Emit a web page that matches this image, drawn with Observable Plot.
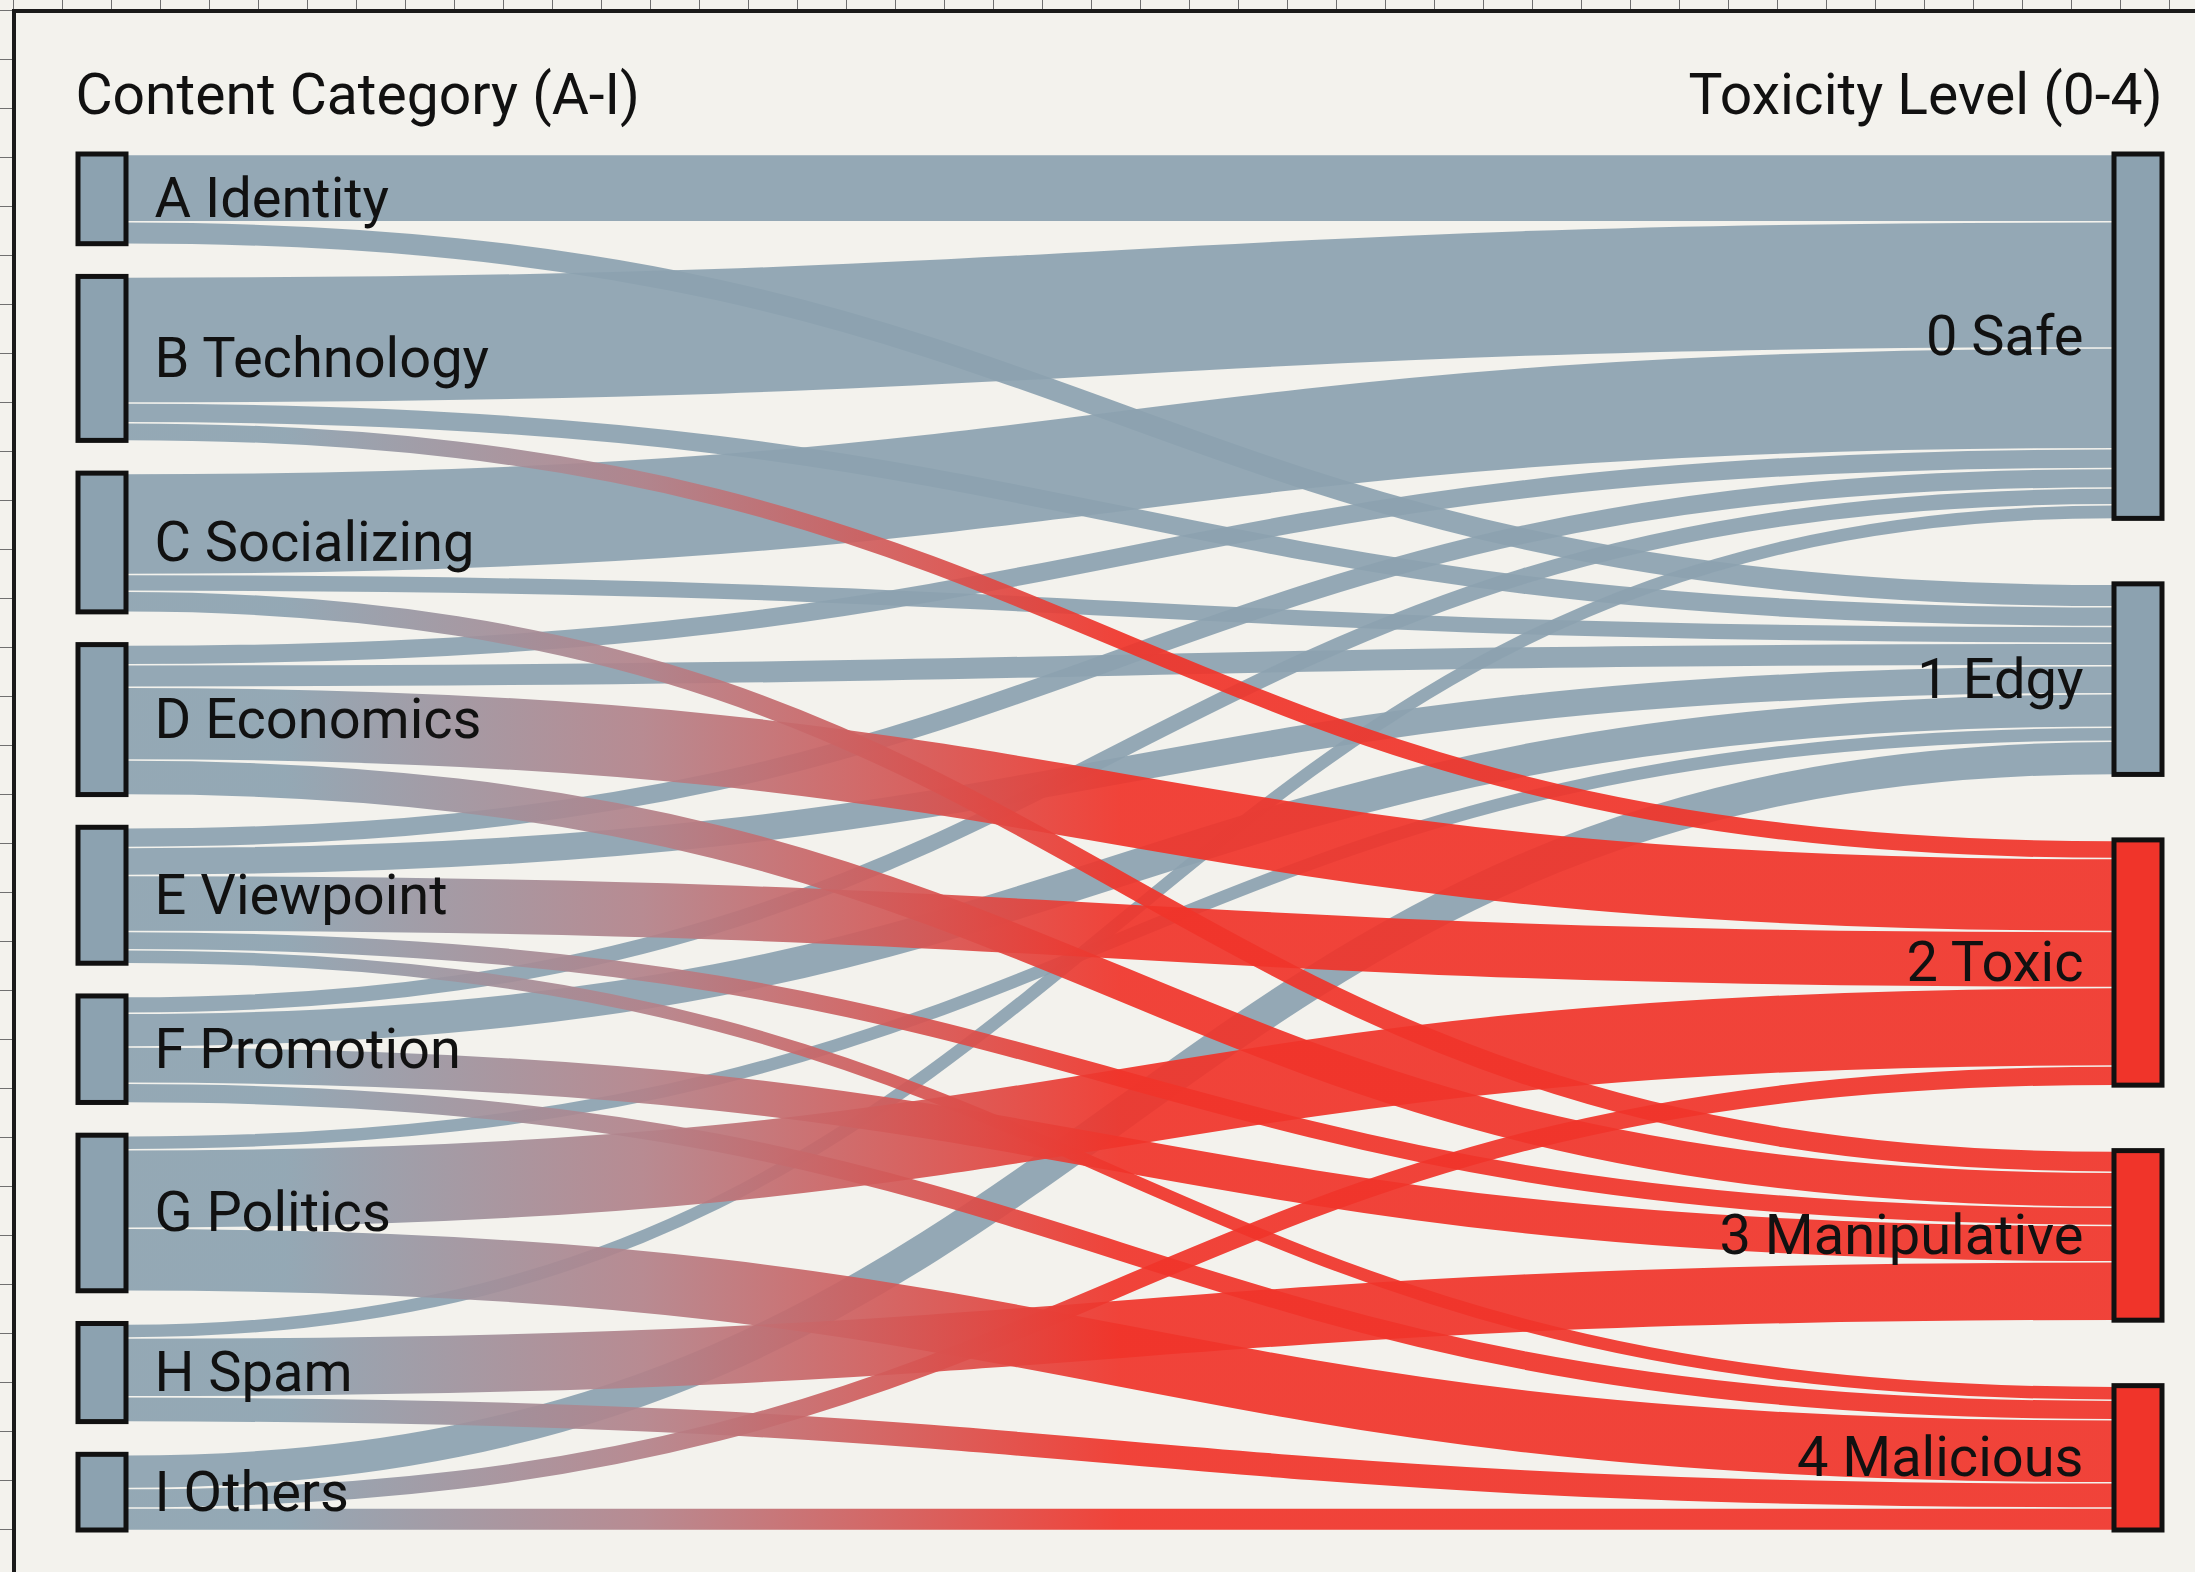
<!DOCTYPE html>
<html>
<head>
<meta charset="utf-8">
<script src="https://cdn.jsdelivr.net/npm/d3@7"></script>
<script src="https://cdn.jsdelivr.net/npm/@observablehq/plot@0.6"></script>
<style>
  html, body { margin: 0; padding: 0; width: 2195px; height: 1572px; overflow: hidden; }
  body {
    background-color: #f3f2ed;
    background-image:
      linear-gradient(to right, #707070 1px, transparent 1px),
      linear-gradient(to bottom, #707070 1px, transparent 1px);
    background-size: 49px 49px;
    background-position: 13px 10px;
  }
  #panel {
    position: absolute; left: 12px; top: 9px; width: 2300px; height: 1700px;
    background: #f3f2ed; border-left: 4px solid #1a1a1a; border-top: 4px solid #1a1a1a;
  }
  #chart { position: absolute; left: 0; top: 0; }
</style>
</head>
<body>
<div id="panel"></div>
<div id="chart"></div>
<script>
// ---- data ----
const sourceNames = ["A Identity", "B Technology", "C Socializing", "D Economics", "E Viewpoint",
                     "F Promotion", "G Politics", "H Spam", "I Others"];
const targetNames = ["0 Safe", "1 Edgy", "2 Toxic", "3 Manipulative", "4 Malicious"];
const targetIsToxic = [false, false, true, true, true];
// flow from each content category (A..I) into each toxicity level
const toSafe         = [48, 90, 72, 14, 14, 12,  0, 10,  0];
const toEdgy         = [16, 14, 12, 16, 20, 24, 10,  0, 24];
const toToxic        = [ 0, 13,  0, 52, 40,  0, 56,  0, 14];
const toManipulative = [ 0,  0, 15, 25, 13, 26,  0, 42,  0];
const toMalicious    = [ 0,  0,  0,  0, 10, 14, 45, 18, 16];
const leftHeader = "Content Category (A-I)";
const rightHeader = "Toxicity Level (0-4)";

// ---- layout ----
const W = 2195, H = 1572;
const mTop = 154, mBottom = 42, mLeft = 126, mRight = 81;
const matrix = [toSafe, toEdgy, toToxic, toManipulative, toMalicious];
const srcTotals = sourceNames.map((_, si) => d3.sum(matrix, row => row[si]));
const tgtTotals = matrix.map(row => d3.sum(row));
const T = d3.sum(srcTotals);
const D = T * 1.235;
const padL = (D - T) / (sourceNames.length - 1);
const padR = (D - T) / (targetNames.length - 1);
const k = (H - mTop - mBottom) / D;
const nodeW = 48 / (W - mLeft - mRight);

let acc = 0;
const leftNodes = sourceNames.map((name, i) => {
  const n = {name, y0: acc, y1: acc + srcTotals[i], x1: -nodeW, x2: 0, toxic: false};
  acc = n.y1 + padL; return n;
});
acc = 0;
const rightNodes = targetNames.map((name, i) => {
  const n = {name, y0: acc, y1: acc + tgtTotals[i], x1: 1, x2: 1 + nodeW, toxic: targetIsToxic[i]};
  acc = n.y1 + padR; return n;
});
const links = [];
sourceNames.forEach((s, si) => targetNames.forEach((t, ti) => {
  const v = matrix[ti][si];
  if (v > 0) links.push({si, ti, value: v, toxic: targetIsToxic[ti]});
}));
const sOff = leftNodes.map(n => n.y0), tOff = rightNodes.map(n => n.y0);
links.slice().sort((a, b) => a.si - b.si || a.ti - b.ti).forEach(l => { l.sy = sOff[l.si] + l.value / 2; sOff[l.si] += l.value; });
links.slice().sort((a, b) => a.ti - b.ti || a.si - b.si).forEach(l => { l.ty = tOff[l.ti] + l.value / 2; tOff[l.ti] += l.value; });

const BLUE = "#8ca2b0", RED = "#f0342a";
const nodes = leftNodes.concat(rightNodes);

const chart = Plot.plot({
  width: W, height: H,
  marginTop: mTop, marginBottom: mBottom, marginLeft: mLeft, marginRight: mRight,
  style: {background: "transparent", fontFamily: "Roboto, sans-serif", color: "#111"},
  x: {domain: [0, 1], axis: null},
  y: {domain: [0, D], reverse: true, axis: null},
  marks: [
    Plot.link(links.filter(l => !l.toxic), {
      x1: 0, x2: 1, y1: "sy", y2: "ty", curve: "bump-x",
      stroke: BLUE, strokeOpacity: 0.92, strokeWidth: l => Math.max(1, l.value * k - 1.5)
    }),
    Plot.link(links.filter(l => l.toxic), {
      x1: 0, x2: 1, y1: "sy", y2: "ty", curve: "bump-x",
      stroke: "url(#toxicGrad)", strokeOpacity: 0.92, strokeWidth: l => Math.max(1, l.value * k - 1.5)
    }),
    Plot.rect(nodes, {
      x1: "x1", x2: "x2", y1: "y0", y2: "y1",
      fill: d => d.toxic ? RED : BLUE, stroke: "#111", strokeWidth: 5
    }),
    Plot.text(leftNodes, {
      x: 0, y: d => (d.y0 + d.y1) / 2, text: "name", textAnchor: "start", dx: 28,
      fontSize: 56, fill: "#111"
    }),
    Plot.text(rightNodes, {
      x: 1, y: d => (d.y0 + d.y1) / 2, text: "name", textAnchor: "end", dx: -31,
      fontSize: 56, fill: "#111"
    }),
    Plot.text([leftHeader], {
      x: -nodeW, text: d => d, frameAnchor: "top", textAnchor: "start", dx: -3, dy: -81,
      fontSize: 57, fill: "#111"
    }),
    Plot.text([rightHeader], {
      x: 1 + nodeW, text: d => d, frameAnchor: "top", textAnchor: "end", dy: -81,
      fontSize: 57, fill: "#111"
    })
  ]
});

// gradient for links into toxic levels (grey-blue at the source, red at the target)
const defs = d3.select(chart).insert("defs", ":first-child");
const grad = defs.append("linearGradient").attr("id", "toxicGrad")
  .attr("gradientUnits", "userSpaceOnUse")
  .attr("x1", mLeft).attr("x2", W - mRight).attr("y1", 0).attr("y2", 0);
[[0, BLUE], [0.08, BLUE], [0.26, "#b3828a"], [0.5, RED], [1, RED]].forEach(([o, c]) =>
  grad.append("stop").attr("offset", o).attr("stop-color", c));

document.getElementById("chart").appendChild(chart);
</script>
</body>
</html>
